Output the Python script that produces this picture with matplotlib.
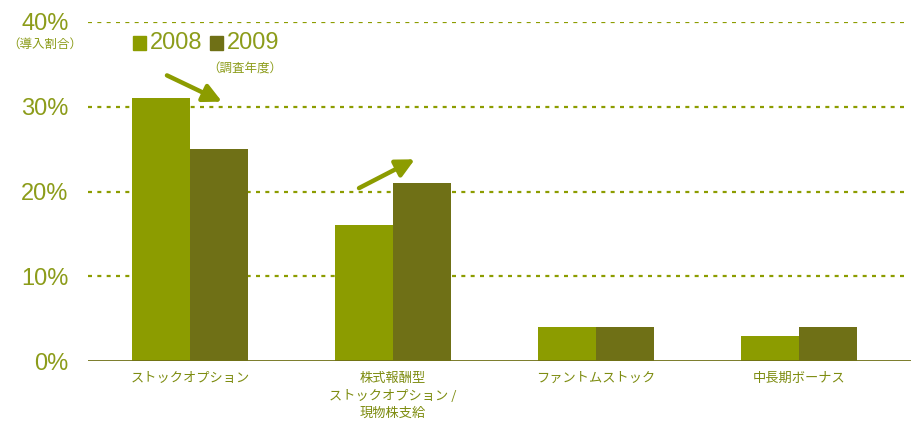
import numpy as np
import matplotlib.pyplot as plt
from matplotlib.patches import Rectangle

plt.rcParams['font.family'] = ['Liberation Sans', 'Noto Sans CJK JP', 'DejaVu Sans']

categories = ['ストックオプション', '株式報酬型\nストックオプション /\n現物株支給', 'ファントムストック', '中長期ボーナス']
vals_2008 = [31, 16, 4, 3]
vals_2009 = [25, 21, 4, 4]
years = ['2008', '2009']
yticks = [0, 10, 20, 30, 40]

c08 = '#8c9c00'
c09 = '#6f7016'
txt = '#8c9c1a'

fig = plt.figure(figsize=(9.11, 4.25), dpi=100)
ax = fig.add_axes([88 / 911, 64 / 425, 823 / 911, 339 / 425])

x = np.arange(len(categories))
w = 0.287
ax.bar(x - w / 2, vals_2008, w, color=c08, zorder=3)
ax.bar(x + w / 2, vals_2009, w, color=c09, zorder=3)

for yv in yticks[1:]:
    ax.axhline(yv, xmax=817 / 823, color=c08, lw=1.6, ls=(0, (1.8, 2.4)), zorder=1)
ax.axhline(0, color='#6f7016', lw=2, zorder=4)

ax.set_xlim(-0.502, 3.552)
ax.set_ylim(0, 40)
ax.set_yticks(yticks)
ax.set_yticklabels([f'{v}%' for v in yticks], fontsize=17, color=txt)
ax.set_xticks(x)
ax.set_xticklabels(categories, fontsize=9.5, color='#7d8c10',
                   family=['Noto Sans CJK JP', 'DejaVu Sans'], va='top', linespacing=1.45)
ax.tick_params(axis='y', length=0, pad=14)
ax.tick_params(axis='x', length=0, pad=8)
for s in ax.spines.values():
    s.set_visible(False)

# y unit note
fig.text(45 / 911, 1 - 44 / 425, '（導入割合）', fontsize=9, color=txt, ha='center', va='center',
         family=['Noto Sans CJK JP', 'DejaVu Sans'])

# legend
for i, (yr, col) in enumerate(zip(years, [c08, c09])):
    x0 = 133 + i * 77
    fig.patches.append(Rectangle((x0 / 911, 1 - 50 / 425), 13 / 911, 14 / 425,
                                 transform=fig.transFigure, color=col))
    fig.text((x0 + 17) / 911, 1 - 43 / 425, yr, fontsize=17, color=txt, va='center', ha='left')
fig.text(245 / 911, 1 - 69 / 425, '（調査年度）', fontsize=9, color=txt, ha='center', va='center',
         family=['Noto Sans CJK JP', 'DejaVu Sans'])

# trend arrows
arrow = dict(arrowstyle='-|>,head_length=1.1,head_width=0.55', color=c08, lw=3.2, shrinkA=0, shrinkB=0)
ax.annotate('', xy=(0.158, 30.6), xytext=(-0.113, 33.7), arrowprops=arrow)
ax.annotate('', xy=(1.108, 23.8), xytext=(0.833, 20.4), arrowprops=arrow)

fig.savefig('out.png', dpi=100)
